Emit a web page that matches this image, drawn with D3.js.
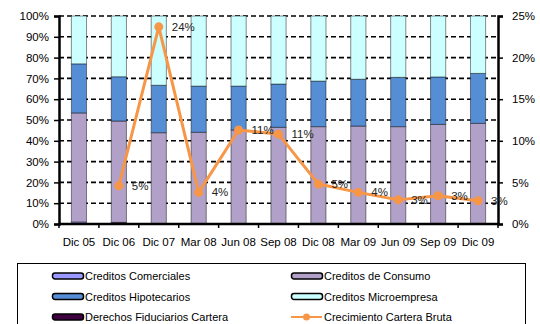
<!DOCTYPE html>
<html>
<head>
<meta charset="utf-8">
<script src="https://cdn.jsdelivr.net/npm/d3@7"></script>
<style>
  html, body { margin: 0; padding: 0; background: #fff; }
  svg { display: block; font-family: "Liberation Sans", Arial, sans-serif; }
</style>
</head>
<body>
<svg id="chart" width="540" height="324"></svg>
<script>
// Loan portfolio composition (share of gross portfolio, %) and gross portfolio growth (%)
const periods = ["Dic 05", "Dic 06", "Dic 07", "Mar 08", "Jun 08", "Sep 08", "Dic 08", "Mar 09", "Jun 09", "Sep 09", "Dic 09"];
const derechosFiduciarios = [0, 0.8, 0, 0, 0, 0, 0, 0, 0, 0, 0];
const comerciales = [1.0, 0, 0, 0, 0, 0, 0, 0, 0, 0, 0];
const consumo = [52.4, 48.7, 43.9, 44.1, 45.2, 46.5, 46.8, 47.1, 46.8, 47.9, 48.4];
const hipotecarios = [23.6, 21.3, 22.8, 22.2, 21.1, 20.8, 21.9, 22.5, 23.7, 22.8, 24.0];
const microempresa = periods.map((p, i) =>
  +(100 - derechosFiduciarios[i] - comerciales[i] - consumo[i] - hipotecarios[i]).toFixed(1));
const crecimiento = [null, 4.6, 23.7, 3.8, 11.3, 10.8, 4.8, 3.8, 2.9, 3.4, 2.8];
const crecimientoLabels = [null, "5%", "24%", "4%", "11%", "11%", "5%", "4%", "3%", "3%", "3%"];
const leftTicks = [0, 10, 20, 30, 40, 50, 60, 70, 80, 90, 100];
const rightTicks = [0, 5, 10, 15, 20, 25];

const seriesDefs = [
  { key: "derechos", name: "Derechos Fiduciarios Cartera", values: derechosFiduciarios, color: "#3f0042" },
  { key: "comerciales", name: "Creditos Comerciales", values: comerciales, color: "#9999ff" },
  { key: "consumo", name: "Creditos de Consumo", values: consumo, color: "#b1a0c7" },
  { key: "hipotecarios", name: "Creditos Hipotecarios", values: hipotecarios, color: "#558ed5" },
  { key: "micro", name: "Creditos Microempresa", values: microempresa, color: "#ccffff" }
];
const lineColor = "#f79646";

const rows = periods.map((p, i) => {
  const r = { period: p };
  seriesDefs.forEach(s => { r[s.key] = s.values[i]; });
  return r;
});

const svg = d3.select("#chart");
const m = { left: 59, right: 498, top: 16, bottom: 224 };

const x = d3.scaleBand().domain(periods).range([m.left, m.right]).paddingInner(0.62).paddingOuter(0.31);
const yL = d3.scaleLinear().domain([0, 100]).range([m.bottom, m.top]);
const yR = d3.scaleLinear().domain([0, 25]).range([m.bottom, m.top]);

// dashed gridlines
svg.append("g").selectAll("line").data(leftTicks.filter(t => t > 0)).join("line")
  .attr("x1", m.left).attr("x2", m.right)
  .attr("y1", d => yL(d)).attr("y2", d => yL(d))
  .attr("stroke", "#000").attr("stroke-width", 1.6).attr("stroke-dasharray", "5,3");

// stacked columns
const stack = d3.stack().keys(seriesDefs.map(s => s.key));
const layers = stack(rows);
svg.append("g").selectAll("g").data(layers).join("g")
  .attr("fill", (d, i) => seriesDefs[i].color)
  .selectAll("rect").data(d => d).join("rect")
  .attr("x", d => x(d.data.period))
  .attr("width", x.bandwidth())
  .attr("y", d => yL(d[1]))
  .attr("height", d => yL(d[0]) - yL(d[1]))
  .attr("stroke", "rgba(0,0,0,0.45)").attr("stroke-width", 1);

// axes
const fontSize = 11.5;
const axL = svg.append("g").attr("transform", `translate(${m.left},0)`)
  .call(d3.axisLeft(yL).tickValues(leftTicks).tickFormat(d => d + "%").tickSize(5).tickPadding(5));
const axR = svg.append("g").attr("transform", `translate(${m.right},0)`)
  .call(d3.axisRight(yR).tickValues(rightTicks).tickFormat(d => d + "%").tickSize(5).tickPadding(9));
const axB = svg.append("g").attr("transform", `translate(0,${m.bottom})`)
  .call(d3.axisBottom(x).tickSize(0).tickPadding(14));
// ticks on category boundaries
const step = x.step();
svg.append("g").selectAll("line").data(d3.range(periods.length + 1)).join("line")
  .attr("x1", i => m.left + i * (m.right - m.left) / periods.length)
  .attr("x2", i => m.left + i * (m.right - m.left) / periods.length)
  .attr("y1", m.bottom).attr("y2", m.bottom + 4)
  .attr("stroke", "#000").attr("stroke-width", 1.5);

[axL, axR, axB].forEach(a => {
  a.select(".domain").attr("stroke", "#000").attr("stroke-width", 2.5);
  a.selectAll(".tick line").attr("stroke", "#000").attr("stroke-width", 1.5);
  a.selectAll("text").attr("font-size", fontSize).attr("fill", "#000")
    .attr("font-family", "'Liberation Sans', Arial, sans-serif");
});
axB.select(".domain").attr("d", `M${m.left},0H${m.right}`);

// growth line
const pts = periods.map((p, i) => ({ p, v: crecimiento[i], label: crecimientoLabels[i] })).filter(d => d.v != null);
const line = d3.line().x(d => x(d.p) + x.bandwidth() / 2).y(d => yR(d.v));
svg.append("path").datum(pts).attr("d", line)
  .attr("fill", "none").attr("stroke", lineColor).attr("stroke-width", 3).attr("stroke-linejoin", "round");
svg.append("g").selectAll("circle").data(pts).join("circle")
  .attr("cx", d => x(d.p) + x.bandwidth() / 2).attr("cy", d => yR(d.v)).attr("r", 4.5)
  .attr("fill", lineColor);
svg.append("g").selectAll("text").data(pts).join("text")
  .attr("x", d => x(d.p) + x.bandwidth() / 2 + 13).attr("y", d => yR(d.v) + 4)
  .attr("font-size", fontSize).attr("fill", "#222").text(d => d.label);

// legend
const lg = svg.append("g");
lg.append("rect").attr("x", 17.5).attr("y", 263.5).attr("width", 508).attr("height", 70)
  .attr("fill", "#fff").attr("stroke", "#000").attr("stroke-width", 1);
const legendItems = [
  seriesDefs[1], seriesDefs[2], seriesDefs[3], seriesDefs[4], seriesDefs[0],
  { name: "Crecimiento Cartera Bruta", line: true }
];
legendItems.forEach((it, i) => {
  const col = i % 2, row = Math.floor(i / 2);
  const gx = col === 0 ? 52 : 291;
  const gy = 276 + row * 20.5;
  const g = lg.append("g").attr("transform", `translate(${gx},${gy})`);
  if (it.line) {
    g.append("line").attr("x1", 0).attr("x2", 31).attr("y1", 0).attr("y2", 0)
      .attr("stroke", lineColor).attr("stroke-width", 2);
    g.append("circle").attr("cx", 15.5).attr("cy", 0).attr("r", 3.5).attr("fill", lineColor);
  } else {
    g.append("rect").attr("x", 0.5).attr("y", -3).attr("width", 31).attr("height", 6).attr("rx", 2.5)
      .attr("fill", it.color).attr("stroke", "#000").attr("stroke-width", 1.5);
  }
  g.append("text").attr("x", 33).attr("y", 4).attr("font-size", 11).attr("fill", "#000").text(it.name);
});
</script>
</body>
</html>
